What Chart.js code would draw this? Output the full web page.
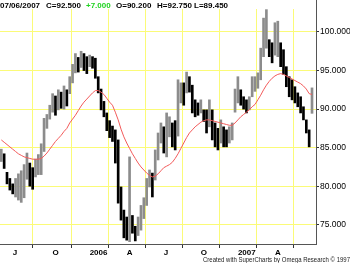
<!DOCTYPE html>
<html><head><meta charset="utf-8">
<script src="https://cdn.jsdelivr.net/npm/chart.js@4.4.0/dist/chart.umd.min.js"></script>
<style>html,body{margin:0;padding:0;background:#fff;overflow:hidden}</style>
</head><body>
<canvas id="c" width="350" height="263" style="display:block;width:350px;height:263px"></canvas>
<script>
// Weekly bars, index 0 = week of 06/03/2005 ... index 109 = week of 07/06/2007
const highs = [
 84.8,84.2,81.8,81.0,80.3,81.0,81.6,82.0,82.8,84.3,
 83.0,82.4,83.5,84.1,85.5,88.8,89.3,90.5,92.0,91.7,
 92.5,92.2,93.0,92.5,94.2,95.8,97.2,96.7,97.5,97.2,
 96.8,97.0,96.8,96.6,94.2,92.6,91.0,89.5,88.5,87.8,
 87.3,86.0,79.9,76.9,76.0,83.8,76.2,74.8,76.0,77.5,
 78.5,81.0,82.1,81.7,84.7,86.9,88.2,87.7,89.5,89.0,
 88.2,88.5,93.8,93.4,93.4,94.8,94.2,93.1,91.2,90.8,
 91.2,89.9,89.9,91.2,89.9,88.2,87.5,88.6,87.7,87.3,
 87.7,88.2,92.6,94.2,92.5,91.6,91.2,91.6,94.2,94.2,
 94.7,97.9,101.8,102.9,99.0,98.6,101.2,101.4,98.6,97.7,
 95.5,94.2,93.8,92.9,92.1,91.6,90.3,88.6,87.3,92.75
];
const lows = [
 83.2,82.3,80.3,79.5,79.0,78.6,78.2,77.9,78.5,80.9,
 80.0,79.6,81.2,81.5,81.5,84.5,87.5,88.7,89.6,89.2,
 89.9,90.1,90.0,90.4,92.0,93.4,94.7,94.8,95.4,95.0,
 94.6,95.5,95.3,94.0,92.1,89.9,89.0,87.2,86.3,85.8,
 83.0,77.8,75.6,73.3,73.0,72.8,73.9,72.9,73.6,74.3,
 75.8,77.5,79.9,78.6,80.8,83.4,85.6,84.3,83.8,86.4,
 85.1,84.7,86.5,90.8,90.5,92.1,92.2,89.5,89.0,89.2,
 89.5,88.4,86.9,87.7,86.0,85.1,84.7,85.6,85.1,85.1,
 85.6,86.0,89.6,90.8,90.5,90.0,89.5,89.9,91.6,92.3,
 92.7,93.8,96.8,97.9,96.8,96.0,97.0,96.8,95.5,94.5,
 92.9,91.6,91.2,90.8,90.3,89.5,88.6,86.9,85.1,89.45
];
const movingAvg = [
 86.0,85.7,85.4,85.1,84.8,84.5,84.2,84.0,83.8,83.7,
 83.6,83.5,83.5,83.5,83.6,83.9,84.3,84.8,85.3,85.8,
 86.2,86.6,87.1,87.5,88.2,88.7,89.2,89.8,90.4,90.9,
 91.3,91.7,92.1,92.4,92.4,92.2,91.9,91.4,90.9,90.5,
 89.6,88.6,87.4,86.4,85.6,84.9,84.2,83.6,83.0,82.5,
 82.1,81.7,81.4,81.2,81.3,81.6,82.0,82.4,82.6,82.8,
 83.1,83.6,84.2,84.9,85.6,86.3,86.9,87.3,87.7,88.0,
 88.3,88.5,88.6,88.6,88.5,88.4,88.3,88.2,88.1,88.0,
 87.9,87.9,88.2,88.6,89.0,89.3,89.6,89.9,90.3,90.6,
 91.2,91.8,92.5,93.1,93.6,94.0,94.3,94.5,94.6,94.5,
 94.3,94.1,93.9,93.7,93.5,93.3,93.0,92.6,92.0,91.9
];
const tickWeeks  = [4, 18, 31, 44, 57, 70, 83, 96, 109];
const tickLabels = ['J', 'O', '2006', 'A', 'J', 'O', '2007', 'A', ''];
const yTicks = [75, 80, 85, 90, 95, 100];
const headerTexts = ['07/06/2007', 'C=92.500', '+7.000', 'O=90.200', 'H=92.750', 'L=89.450'];
const footerText = 'Created with SuperCharts by Omega Research \u00A9 1997';

const FONT = "'Liberation Sans', Arial, sans-serif";
const weeks = highs.map((_, i) => i);
const barData = weeks.map(i => ({x: i, y: [lows[i], highs[i]]}));
const barColors = weeks.map(i => (i > 0 && (highs[i] + lows[i]) < (highs[i-1] + lows[i-1])) ? '#000000' : '#8c8c8c');
const maData = weeks.map(i => ({x: i, y: movingAvg[i]}));

const headerPlugin = {
  id: 'hdr',
  afterDatasetsDraw(chart) {
    const ctx = chart.ctx;
    ctx.save();
    ctx.fillStyle = '#ffffff';
    ctx.fillRect(0, 0, chart.chartArea.right - 0.5, 9);
    ctx.restore();
  },
  afterDraw(chart) {
    const ctx = chart.ctx;
    ctx.save();
    ctx.font = 'bold 8px ' + FONT;
    ctx.textBaseline = 'alphabetic';
    const xs = [0, 46, 86, 116, 157, 194];
    headerTexts.forEach((t, k) => {
      ctx.fillStyle = (k === 2) ? '#1fd21f' : '#000000';
      ctx.fillText(t, xs[k], 7.5);
    });
    ctx.font = '7px ' + FONT;
    const w = ctx.measureText(footerText).width;
    const target = 147;
    ctx.translate(203, 261.5);
    ctx.scale(target / w, 1);
    ctx.fillStyle = '#222222';
    ctx.fillText(footerText, 0, 0);
    ctx.restore();
  }
};

new Chart(document.getElementById('c').getContext('2d'), {
  type: 'bar',
  data: {
    datasets: [
      {type: 'line', data: maData, borderColor: '#f25a5a', borderWidth: 1, pointRadius: 0, tension: 0, order: 0},
      {type: 'bar', data: barData, backgroundColor: barColors, barThickness: 2, grouped: false, order: 1}
    ]
  },
  options: {
    responsive: false, animation: false, devicePixelRatio: 1,
    layout: {padding: 0},
    plugins: {legend: {display: false}, tooltip: {enabled: false}},
    scales: {
      x: {
        type: 'linear', min: -0.456, max: 110.4, offset: false,
        afterBuildTicks: s => { s.ticks = tickWeeks.map(v => ({value: v})); },
        afterFit: s => { s.height = 19; s.paddingLeft = 0; s.paddingRight = 0; },
        grid: {color: '#fbfb78', lineWidth: 1, tickColor: '#333333', tickLength: 4},
        border: {color: '#555555', width: 1},
        ticks: {autoSkip: false, maxRotation: 0, align: 'start', padding: 0, color: '#000000',
          font: {family: FONT, size: 8, weight: 'bold'},
          callback: (v, idx) => tickLabels[idx]}
      },
      y: {
        position: 'right', min: 72.5, max: 104.15,
        afterBuildTicks: s => { s.ticks = yTicks.map(v => ({value: v})); },
        afterFit: s => { s.width = 34; s.paddingTop = 0; s.paddingBottom = 0; },
        grid: {color: '#fbfb78', lineWidth: 1, tickColor: '#333333', tickLength: 3},
        border: {color: '#555555', width: 1},
        ticks: {padding: 1, color: '#000000', font: {family: FONT, size: 8.5},
          callback: v => Number(v).toFixed(3)}
      }
    }
  },
  plugins: [headerPlugin]
});
</script>
</body></html>
